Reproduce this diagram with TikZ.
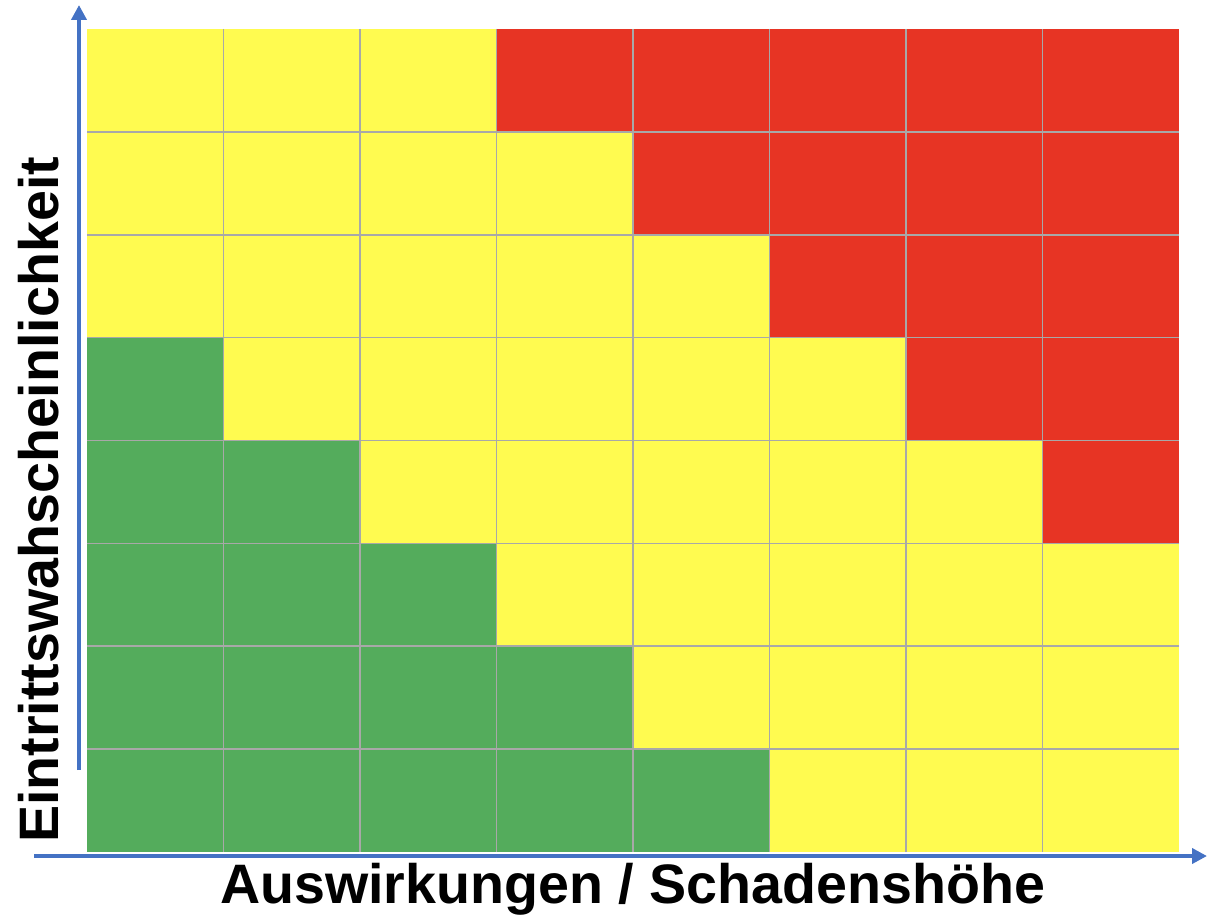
\documentclass[tikz,border=0pt]{standalone}
\usepackage{fontspec}
\setmainfont{Liberation Sans}
\usetikzlibrary{arrows.meta,positioning}
\definecolor{riskyellow}{RGB}{255,251,80}
\definecolor{riskred}{RGB}{231,52,36}
\definecolor{riskgreen}{RGB}{84,172,92}
\definecolor{axisblue}{RGB}{68,114,196}
\definecolor{gridgray}{RGB}{168,168,168}

\begin{document}
\begin{tikzpicture}[
    x=0.5pt, y=-0.5pt,
    gridline/.style={draw=gridgray, line width=0.8pt},
    axis/.style={draw=axisblue, line width=2pt, -{Triangle[length=7.5pt,width=7.5pt]}},
    axislabel/.style={font=\bfseries\fontsize{27.8}{32}\selectfont, inner sep=0pt}
]
\useasboundingbox (0,0) rectangle (1218,920);

% Risk cells (row 1 = top)
\foreach \r in {1,...,8}{
  \foreach \c in {1,...,8}{
    \pgfmathtruncatemacro{\d}{\c-\r}
    \ifnum\d>2 \def\cellcol{riskred}\else\ifnum\d<-2 \def\cellcol{riskgreen}\else\def\cellcol{riskyellow}\fi\fi
    \fill[\cellcol] ({87+(\c-1)*136.5},{29+(\r-1)*102.875}) rectangle ({87+\c*136.5},{29+\r*102.875});
  }
}

% Grid lines
\foreach \i in {1,...,7}{
  \draw[gridline] ({87+\i*136.5},29) -- ({87+\i*136.5},852);
  \draw[gridline] (87,{29+\i*102.875}) -- (1179,{29+\i*102.875});
}

% Axes
\coordinate (ytail) at (79,770);
\coordinate (ytip) at (79,5);
\coordinate (xtail) at (34,856);
\coordinate (xtip) at (1207,856);
\draw[axis] (ytail) -- (ytip);
\draw[axis] (xtail) -- (xtip);

% Axis labels
\node[axislabel, anchor=base] (xlabel) at (632.5,903) {Auswirkungen / Schadenshöhe};
\node[axislabel, rotate=90, anchor=base] (ylabel) at (58,500) {Eintrittswahscheinlichkeit};

\end{tikzpicture}
\end{document}
